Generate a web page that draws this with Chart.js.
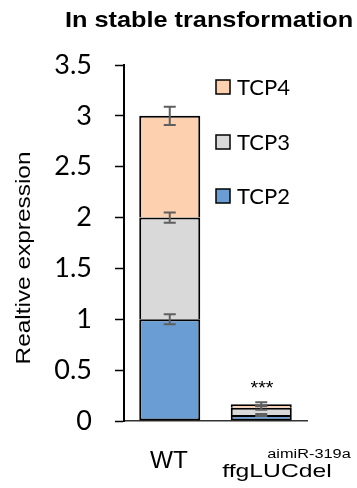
<!DOCTYPE html>
<html>
<head>
<meta charset="utf-8">
<script src="https://cdn.jsdelivr.net/npm/chart.js@4.4.1/dist/chart.umd.min.js"></script>
<style>
  html, body { margin: 0; padding: 0; background: #fff; }
  #wrap { width: 357px; height: 488px; }
</style>
</head>
<body>
<div id="wrap"><canvas id="c" width="357" height="488"></canvas></div>
<script>
// values
const categories = ['WT', 'ffgLUCdel'];
const tcp2 = [1.0, 0.06];
const tcp3 = [1.0, 0.07];
const tcp4 = [1.0, 0.035];
const tcp2Err = [0.05, 0.01];
const tcp3Err = [0.05, 0.02];
const tcp4Err = [0.09, 0.02];
const yTicks = [0, 0.5, 1, 1.5, 2, 2.5, 3, 3.5];

const errs = [tcp2Err, tcp3Err, tcp4Err];

function txt(ctx, s, x, y, font, sx, align, rot) {
  ctx.save();
  ctx.translate(x, y);
  if (rot) ctx.rotate(rot);
  ctx.scale(sx, 1);
  ctx.font = font;
  ctx.fillStyle = '#000';
  ctx.textAlign = align || 'center';
  ctx.textBaseline = 'alphabetic';
  ctx.fillText(s, 0, 0);
  ctx.restore();
}

// error bars + all the loose text
const extras = {
  id: 'extras',
  afterDatasetsDraw(chart) {
    const ctx = chart.ctx;
    const y = chart.scales.y;
    ctx.save();
    ctx.strokeStyle = '#5f5f5f';
    ctx.lineWidth = 2;
    chart.data.datasets.forEach((ds, i) => {
      const meta = chart.getDatasetMeta(i);
      meta.data.forEach((el, j) => {
        let cum = 0;
        for (let k = 0; k <= i; k++) cum += chart.data.datasets[k].data[j];
        const e = errs[i][j];
        const y1 = y.getPixelForValue(cum + e);
        const y2 = y.getPixelForValue(cum - e);
        ctx.beginPath();
        ctx.moveTo(el.x, y1); ctx.lineTo(el.x, y2);
        ctx.moveTo(el.x - 6, y1); ctx.lineTo(el.x + 6, y1);
        ctx.moveTo(el.x - 6, y2); ctx.lineTo(el.x + 6, y2);
        ctx.stroke();
      });
    });
    ctx.restore();
  },
  afterDraw(chart) {
    const ctx = chart.ctx;
    txt(ctx, 'In stable transformation', 209, 27, 'bold 22px "Liberation Sans", Arial', 1.15);
    txt(ctx, 'Realtive expression', 30, 258, '20px "Liberation Sans", Arial', 1.22, 'center', -Math.PI / 2);
    txt(ctx, categories[0], 169, 468, '23px "Liberation Sans", Arial', 1.06);
    txt(ctx, categories[1], 277, 477, '19px "Liberation Sans", Arial', 1.3);
    txt(ctx, 'aimiR-319a', 309, 458, '12px "Liberation Sans", Arial', 1.36);
    txt(ctx, '***', 262, 394, '18px "Liberation Sans", Arial', 1.1);

    // legend, top entry first
    const ds = chart.data.datasets.slice().reverse();
    const tops = [80, 135, 189];
    ds.forEach((d, i) => {
      ctx.save();
      ctx.fillStyle = d.backgroundColor;
      ctx.strokeStyle = '#000';
      ctx.lineWidth = 1.5;
      ctx.fillRect(216, tops[i], 14, 14);
      ctx.strokeRect(216, tops[i], 14, 14);
      ctx.restore();
      txt(ctx, d.label, 237, tops[i] + 15, '22px Lato', 1.0, 'left');
    });
  }
};

const ctx = document.getElementById('c').getContext('2d');
new Chart(ctx, {
  type: 'bar',
  data: {
    labels: categories,
    datasets: [
      { label: 'TCP2', data: tcp2, backgroundColor: '#699dd3', borderSkipped: false },
      { label: 'TCP3', data: tcp3, backgroundColor: '#d9d9d9', borderSkipped: 'bottom' },
      { label: 'TCP4', data: tcp4, backgroundColor: '#fdd1b0', borderSkipped: 'bottom' }
    ]
  },
  options: {
    responsive: false,
    animation: false,
    layout: { padding: { top: 65, right: 50, left: 0, bottom: 0 } },
    datasets: {
      bar: {
        borderColor: '#000',
        borderWidth: 2,
        barPercentage: 0.667,
        categoryPercentage: 1.0
      }
    },
    plugins: {
      legend: { display: false },
      tooltip: { enabled: false }
    },
    scales: {
      x: {
        stacked: true,
        afterFit: (s) => { s.height = 67; },
        grid: { drawOnChartArea: false, drawTicks: false },
        border: { color: '#333', width: 1.5 },
        ticks: { display: false }
      },
      y: {
        stacked: true,
        min: 0,
        max: 3.5,
        afterFit: (s) => { s.width = 124; },
        afterBuildTicks: (s) => { s.ticks = yTicks.map(v => ({ value: v })); },
        grid: { drawOnChartArea: false, tickLength: 9, tickColor: '#000', tickWidth: 1.5 },
        border: { color: '#000', width: 2 },
        ticks: {
          padding: 23,
          color: '#000',
          font: { family: 'Lato', size: 27 },
          callback: (v) => String(v)
        }
      }
    }
  },
  plugins: [extras]
});
</script>
</body>
</html>
